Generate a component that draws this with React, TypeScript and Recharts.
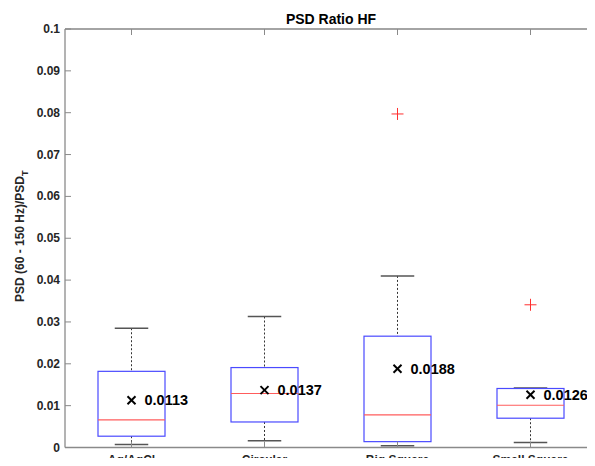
import React from "react";
import {
  ComposedChart,
  Bar,
  Scatter,
  XAxis,
  YAxis,
  CartesianGrid,
  ReferenceLine,
} from "recharts";

const categories = ["Ag/AgCl", "Circular", "Big Square", "Small Square"];
const whiskerLow = [0.0007, 0.0016, 0.0004, 0.0012];
const q1 = [0.0027, 0.0061, 0.0014, 0.007];
const median = [0.0066, 0.0129, 0.0078, 0.0101];
const q3 = [0.0182, 0.0191, 0.0266, 0.0141];
const whiskerHigh = [0.0285, 0.0313, 0.041, 0.0142];
const means = [0.0113, 0.0137, 0.0188, 0.0126];
const meanLabels = ["0.0113", "0.0137", "0.0188", "0.0126"];
const outliers = [null, null, 0.0797, 0.0341];

const yTicks = [0, 0.01, 0.02, 0.03, 0.04, 0.05, 0.06, 0.07, 0.08, 0.09, 0.1];
const yTickLabels = ["0", "0.01", "0.02", "0.03", "0.04", "0.05", "0.06", "0.07", "0.08", "0.09", "0.1"];

const data = categories.map((name, i) => ({
  name,
  lo: whiskerLow[i],
  q1: q1[i],
  med: median[i],
  q3: q3[i],
  hi: whiskerHigh[i],
  mean: means[i],
  meanLabel: meanLabels[i],
  outlier: outliers[i],
}));

const FONT = "'Liberation Sans', Arial, Helvetica, sans-serif";
const AXIS = "#8a8a8a";
const TEXT = "#262626";

const BoxShape = (props: any) => {
  const { x, y, width, height, payload } = props;
  const top = Math.min(y, y + height);
  const bot = Math.max(y, y + height);
  const span = payload.hi - payload.lo;
  const py = (v: number) => bot - ((v - payload.lo) / span) * (bot - top);
  const cx = x + width / 2;
  const capW = width / 2;
  return (
    <g>
      <line x1={cx} x2={cx} y1={py(payload.hi)} y2={py(payload.q3)} stroke="#333" strokeDasharray="2 2" />
      <line x1={cx} x2={cx} y1={py(payload.q1)} y2={py(payload.lo)} stroke="#333" strokeDasharray="2 2" />
      <line x1={cx - capW / 2} x2={cx + capW / 2} y1={py(payload.hi)} y2={py(payload.hi)} stroke="#555" strokeWidth={1.5} />
      <line x1={cx - capW / 2} x2={cx + capW / 2} y1={py(payload.lo)} y2={py(payload.lo)} stroke="#555" strokeWidth={1.5} />
      <rect
        x={x}
        y={py(payload.q3)}
        width={width}
        height={py(payload.q1) - py(payload.q3)}
        fill="none"
        stroke="#4a4aff"
        strokeWidth={1.2}
      />
      <line x1={x} x2={x + width} y1={py(payload.med)} y2={py(payload.med)} stroke="#ff5c5c" strokeWidth={1.2} />
    </g>
  );
};

const MeanShape = (props: any) => {
  const { cx, cy, payload } = props;
  if (cx == null || cy == null) return null;
  const s = 4;
  return (
    <g>
      <line x1={cx - s} x2={cx + s} y1={cy - s} y2={cy + s} stroke="#000" strokeWidth={2} />
      <line x1={cx - s} x2={cx + s} y1={cy + s} y2={cy - s} stroke="#000" strokeWidth={2} />
      <text x={cx + 13} y={cy + 5} fontSize={14.5} fontWeight="bold" fill="#000" fontFamily={FONT}>
        {payload.meanLabel}
      </text>
    </g>
  );
};

const OutlierShape = (props: any) => {
  const { cx, cy, payload } = props;
  if (payload.outlier == null || cx == null || cy == null) return null;
  const s = 6;
  return (
    <g>
      <line x1={cx - s} x2={cx + s} y1={cy} y2={cy} stroke="#ff3030" strokeWidth={1} />
      <line x1={cx} x2={cx} y1={cy - s} y2={cy + s} stroke="#ff3030" strokeWidth={1} />
    </g>
  );
};

const LeftTick = (props: any) => {
  const { x, y, index } = props;
  const ax = x + 5;
  return (
    <g>
      <line x1={ax} x2={ax + 6} y1={y} y2={y} stroke={AXIS} />
      <text x={x} y={y + 4} textAnchor="end" fontSize={12} fontWeight="bold" fill={TEXT} fontFamily={FONT}>
        {yTickLabels[index]}
      </text>
    </g>
  );
};

const RightTick = (props: any) => {
  const { x, y } = props;
  return <line x1={x - 6} x2={x} y1={y} y2={y} stroke={AXIS} />;
};

const TopTick = (props: any) => {
  const { x, y } = props;
  return <line x1={x} x2={x} y1={y} y2={y + 6} stroke={AXIS} />;
};

const BottomTick = (props: any) => {
  const { x, y, payload } = props;
  return (
    <g>
      <line x1={x} x2={x} y1={y} y2={y - 6} stroke={AXIS} />
      <line x1={x} x2={x} y1={29} y2={35} stroke={AXIS} />
      <text x={x} y={y + 16} textAnchor="middle" fontSize={12} fontWeight="bold" fill={TEXT} fontFamily={FONT}>
        {payload.value}
      </text>
    </g>
  );
};

const YLabel = (props: any) => {
  const { viewBox } = props;
  const lx = viewBox.x + 24;
  const ly = viewBox.y + viewBox.height / 2 - 2;
  return (
    <text
      x={lx}
      y={ly}
      transform={`rotate(-90, ${lx}, ${ly})`}
      textAnchor="middle"
      fontSize={12}
      fontWeight="bold"
      fill={TEXT}
      fontFamily={FONT}
    >
      PSD (60 - 150 Hz)/PSD
      <tspan fontSize={9} dy={4}>T</tspan>
    </text>
  );
};

export default function App() {
  return (
    <div style={{ margin: -8, width: 595, height: 466, overflow: "hidden", background: "#fff", position: "relative" }}>
      <div
        style={{
          position: "absolute",
          left: 231,
          width: 200,
          top: 11,
          textAlign: "center",
          fontFamily: FONT,
          fontWeight: "bold",
          fontSize: 14,
          color: "#000",
          lineHeight: "16px",
        }}
      >
        PSD Ratio HF
      </div>
      <ComposedChart
        width={600}
        height={480}
        data={data}
        margin={{ top: 29, right: 3, bottom: 2.5, left: 0 }}
      >
        <CartesianGrid horizontal vertical={false} stroke="#e8e8e8" />
        <XAxis
          dataKey="name"
          xAxisId="bottom"
          height={30}
          axisLine={{ stroke: AXIS, strokeWidth: 1.3 }}
          tickLine={false}
          tickSize={0}
          tickMargin={0}
          tick={<BottomTick />}
          interval={0}
        />
        <YAxis
          yAxisId="left"
          type="number"
          domain={[0, 0.1]}
          ticks={yTicks}
          width={65}
          axisLine={{ stroke: AXIS, strokeWidth: 1.3 }}
          tickLine={false}
          tickSize={0}
          tickMargin={5}
          tick={<LeftTick />}
          interval={0}
          label={<YLabel />}
        />
        <YAxis
          yAxisId="right"
          orientation="right"
          type="number"
          domain={[0, 0.1]}
          ticks={yTicks}
          width={0}
          axisLine={{ stroke: AXIS, strokeWidth: 1.3 }}
          tickLine={false}
          tickSize={0}
          tickMargin={0}
          tick={<RightTick />}
          interval={0}
        />
        <ReferenceLine xAxisId="bottom" yAxisId="left" y={0.1} stroke={AXIS} strokeWidth={1.3} />
        <Bar
          xAxisId="bottom"
          yAxisId="left"
          dataKey={(d: any) => [d.lo, d.hi]}
          barSize={67}
          shape={<BoxShape />}
          isAnimationActive={false}
        />
        <Scatter
          xAxisId="bottom"
          yAxisId="left"
          dataKey="outlier"
          shape={<OutlierShape />}
          isAnimationActive={false}
        />
        <Scatter
          xAxisId="bottom"
          yAxisId="left"
          dataKey="mean"
          shape={<MeanShape />}
          isAnimationActive={false}
        />
      </ComposedChart>
    </div>
  );
}
